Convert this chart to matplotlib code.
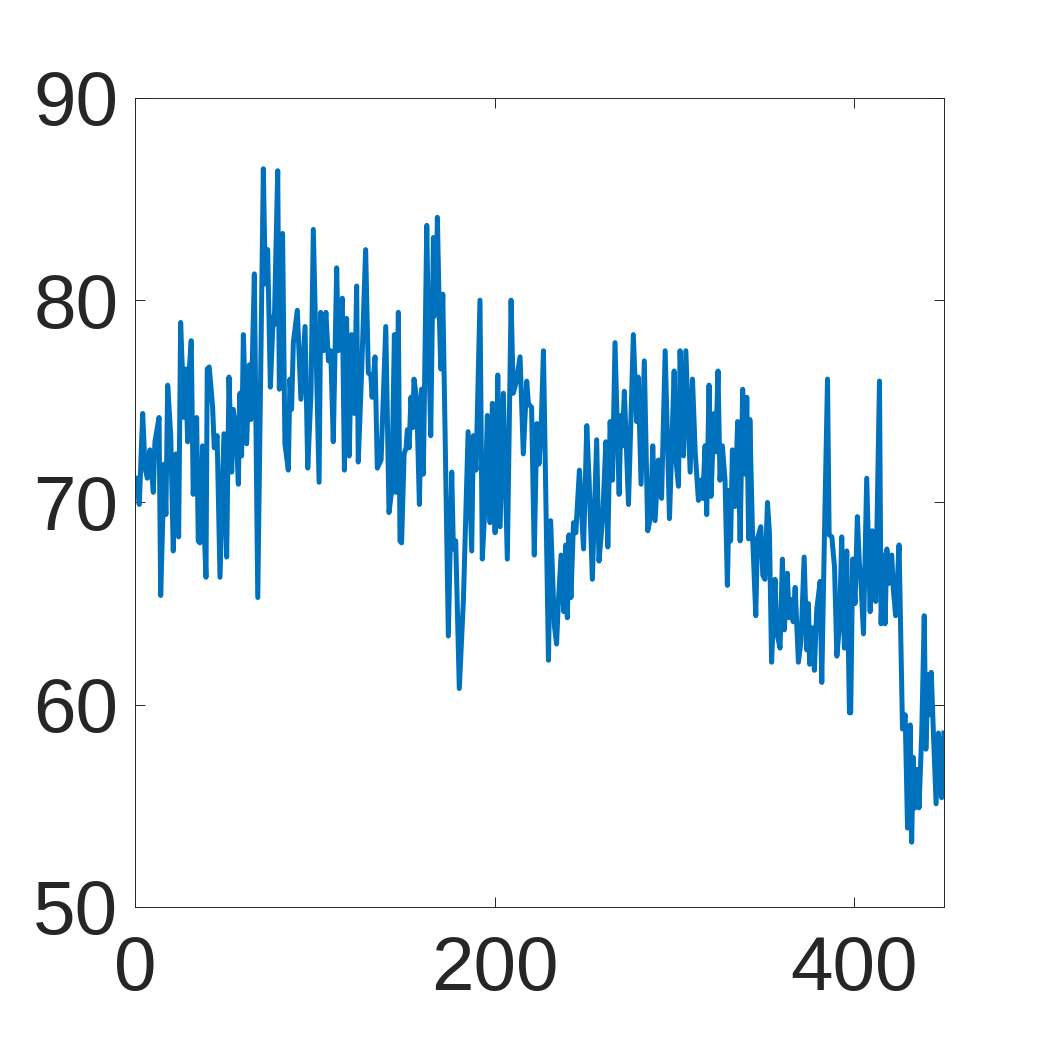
import numpy as np
import matplotlib.pyplot as plt

plt.rcParams['font.family'] = ['Liberation Sans', 'DejaVu Sans']

# vertices (iteration, value)
x_vals = [0.9, 2.4, 4.3, 5.6, 6.9, 8.3, 10.2, 11.1, 13.4, 14.3, 16.3, 17.2, 18.2, 19.9,
          21.3, 22.8, 24.3, 25.4, 27.3, 28.2, 29.3, 30.0, 31.3, 32.4, 34.3, 35.2, 36.1,
          37.6, 38.4, 39.5, 40.2, 41.3, 43.2, 44.1, 45.7, 47.3, 49.5, 51.0, 52.3, 53.8,
          54.7, 56.2, 57.5, 58.4, 59.3, 60.3, 62.1, 63.6, 64.5, 66.4, 68.3, 71.4, 72.5,
          73.8, 75.3, 76.9, 77.5, 79.4, 80.3, 82.1, 83.4, 85.3, 86.2, 87.1, 88.1, 90.3,
          92.3, 94.6, 96.1, 97.9, 99.2, 102.4, 103.3, 104.8, 106.2, 107.6, 108.9, 110.3,
          112.2, 113.1, 115.3, 116.5, 117.7, 119.2, 120.5, 122.0, 123.3, 124.2, 126.0,
          128.3, 129.8, 131.2, 131.9, 133.5, 134.8, 136.9, 139.5, 141.3, 142.8, 144.3,
          145.2, 146.5, 147.4, 148.3, 149.7, 150.8, 151.5, 152.5, 153.5, 154.5, 155.2,
          156.7, 158.2, 159.4, 160.4, 162.3, 163.2, 164.5, 166.0, 166.5, 167.5, 168.2,
          169.3, 170.1, 171.2, 172.5, 174.3, 176.2, 177.1, 178.4, 180.4, 182.7, 185.3,
          187.3, 188.2, 189.7, 191.9, 193.2, 194.7, 196.0, 197.5, 198.8, 200.3, 201.8,
          203.1, 204.9, 207.1, 209.2, 210.4, 211.9, 214.2, 216.0, 217.9, 218.8, 220.6,
          222.1, 223.5, 224.7, 225.8, 227.2, 230.0, 231.2, 233.3, 234.5, 235.4, 237.0,
          238.5, 239.6, 240.5, 241.4, 242.5, 243.9, 245.2, 247.2, 249.5, 251.3, 252.6,
          254.4, 256.8, 258.1, 260.1, 261.9, 263.0, 264.3, 265.6, 267.0, 269.3, 270.3,
          271.0, 272.2, 274.5, 277.2, 279.0, 279.9, 281.5, 283.3, 285.2, 286.8, 288.0,
          289.3, 291.1, 292.9, 294.9, 297.3, 299.9, 300.9, 302.3, 303.2, 305.1, 306.4,
          308.8, 310.1, 311.6, 313.4, 314.7, 315.8, 317.1, 318.0, 319.3, 320.4, 322.1,
          323.0, 324.3, 325.4, 326.7, 328.2, 329.5, 330.6, 331.3, 332.3, 333.8, 335.2,
          336.6, 338.0, 339.3, 340.3, 341.3, 342.0, 343.5, 345.3, 346.2, 348.1, 349.2,
          350.4, 351.8, 352.9, 354.1, 356.0, 356.9, 358.8, 360.1, 361.2, 362.8, 363.9,
          365.2, 366.1, 367.2, 369.0, 370.5, 372.2, 373.7, 374.6, 375.3, 376.8, 377.9,
          379.2, 381.1, 382.0, 383.5, 385.2, 386.1, 387.6, 389.1, 390.4, 391.9, 393.1,
          394.6, 395.9, 397.4, 398.1, 399.2, 400.5, 401.8, 402.9, 403.7, 405.2, 407.0,
          408.9, 410.1, 411.2, 412.0, 414.1, 415.0, 416.3, 417.2, 418.2, 419.4, 420.9,
          421.8, 423.1, 425.0, 426.9, 428.4, 429.7, 431.2, 432.0, 432.9, 433.9, 435.2,
          436.1, 437.6, 439.0, 439.9, 441.1, 441.9, 442.9, 444.1, 445.6, 446.9, 447.8,
          448.7, 449.9]
y_vals = [71.2, 69.9, 74.4, 71.7, 71.2, 72.6, 70.5, 73.0, 74.2, 65.4, 71.9, 69.4, 75.8, 73.3,
          67.6, 72.4, 68.3, 78.9, 74.2, 76.6, 73.0, 76.3, 78.0, 70.4, 74.2, 68.1, 68.0,
          72.8, 68.9, 66.3, 76.6, 76.7, 74.7, 72.7, 73.3, 66.3, 73.4, 67.3, 76.2, 71.5,
          74.6, 73.7, 70.9, 75.4, 72.3, 78.3, 72.9, 76.8, 74.1, 81.3, 65.3, 86.5, 80.8,
          82.5, 75.7, 79.2, 78.8, 86.4, 75.6, 83.3, 72.9, 71.6, 76.1, 74.6, 77.9, 79.5,
          75.1, 78.7, 71.7, 75.4, 83.5, 71.0, 79.4, 77.5, 79.4, 77.0, 77.5, 73.0,
          81.6, 77.5, 80.1, 71.6, 79.1, 72.3, 78.3, 74.4, 80.7, 72.0, 76.3,
          82.5, 76.4, 76.3, 75.2, 77.2, 71.7, 72.1, 78.7, 69.5, 70.6, 78.3,
          70.5, 79.4, 68.1, 68.0, 72.4, 72.7, 73.6, 72.7, 75.2, 73.7, 76.1,
          75.1, 69.9, 75.6, 71.4, 83.7, 78.4, 73.3, 83.1, 79.2, 79.4, 84.1,
          79.2, 76.6, 80.3, 73.4, 63.4, 71.5, 67.7, 68.1, 60.8, 65.2, 73.5,
          67.6, 73.3, 71.6, 80.0, 67.2, 69.9, 74.3, 69.0, 74.9, 68.5, 76.3,
          68.8, 75.4, 67.2, 80.0, 75.4, 75.9, 77.2, 72.4, 76.0, 74.9, 74.7,
          67.4, 73.9, 71.9, 73.4, 77.5, 62.2, 69.1, 63.9, 63.0, 64.9, 67.4,
          64.6, 67.9, 64.3, 68.4, 65.3, 69.0, 68.5, 71.6, 67.7, 73.8, 71.1,
          66.2, 73.1, 67.1, 69.2, 73.0, 67.8, 74.0, 71.1, 77.9, 70.4, 74.3,
          72.8, 75.5, 69.9, 78.3, 74.0, 76.2, 70.9, 77.0, 68.6, 69.3, 72.8,
          69.1, 72.1, 70.2, 77.5, 69.2, 76.5, 72.1, 70.8, 77.5, 72.3, 77.5,
          71.5, 76.1, 72.5, 70.1, 71.1, 70.2, 72.8, 69.4, 75.8, 70.3, 74.4,
          72.5, 76.5, 71.1, 72.8, 71.1, 65.9, 70.6, 68.1, 72.6, 69.8, 74.0,
          68.1, 75.6, 71.4, 75.2, 68.2, 74.1, 68.4, 64.4, 68.2, 68.8, 66.4,
          66.2, 70.0, 68.5, 62.1, 66.2, 63.6, 62.8, 67.2, 63.7, 66.5, 64.3,
          65.2, 64.1, 65.8, 62.1, 63.2, 67.3, 62.7, 65.0, 62.0, 63.8, 61.7,
          64.7, 66.1, 61.1, 68.4, 76.1, 68.4, 68.3, 66.8, 62.4, 64.0, 68.3,
          62.8, 67.6, 59.6, 59.6, 67.2, 65.0, 69.3, 67.0, 66.2, 63.5, 71.2,
          64.6, 68.6, 66.4, 65.1, 76.0, 64.0, 67.4, 64.0, 67.7, 66.0, 67.4,
          65.7, 64.4, 67.9, 58.8, 59.5, 53.9, 59.0, 53.2, 57.4, 54.9, 56.8,
          54.9, 58.6, 64.4, 57.8, 61.5, 59.5, 61.6, 58.6, 55.1, 58.6, 56.9,
          55.4, 58.6]

x_ticks = [0, 200, 400]
y_ticks = [50, 60, 70, 80, 90]

fig = plt.figure(figsize=(10.43, 10.42), dpi=100)
ax = fig.add_axes([0.1294, 0.1296, 0.7757, 0.7764])
ax.plot(x_vals, y_vals, color='#0072BD', linewidth=3.6, solid_joinstyle='round')

ax.set_xlim(0, 450)
ax.set_ylim(50, 90)
ax.set_xticks(x_ticks)
ax.set_yticks(y_ticks)
ax.tick_params(direction='in', length=7, width=0.7, colors='#262626',
               labelsize=55, top=True, right=True)
ax.tick_params(axis='x', pad=20)
ax.tick_params(axis='y', pad=12)
for s in ax.spines.values():
    s.set_color('#262626')
    s.set_linewidth(0.7)

fig.savefig('out.png', dpi=100)
